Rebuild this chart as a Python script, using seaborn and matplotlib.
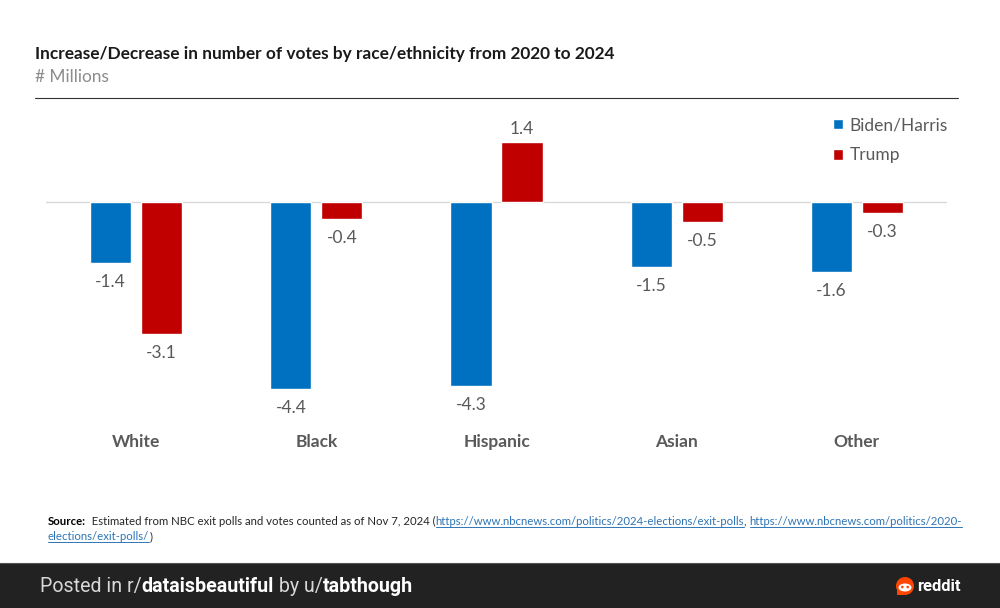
import pandas as pd
import matplotlib
matplotlib.use('Agg')
import matplotlib.pyplot as plt
from matplotlib.lines import Line2D
from matplotlib.patches import Circle, Ellipse, Polygon, Rectangle
import seaborn as sns

# Values (millions of votes)
groups = ['White', 'Black', 'Hispanic', 'Asian', 'Other']
biden_harris = [-1.449, -4.42, -4.349, -1.53, -1.649]
trump = [-3.12, -0.40, 1.39, -0.49, -0.27]
series_names = ['Biden/Harris', 'Trump']

W, H = 1000, 608

sns.set_theme(style='white')
plt.rcParams['font.family'] = ['Lato', 'DejaVu Sans']

df = pd.DataFrame({
    'group': groups * 2,
    'change': biden_harris + trump,
    'candidate': [series_names[0]] * 5 + [series_names[1]] * 5,
})

fig = plt.figure(figsize=(W / 100, H / 100), dpi=100, facecolor='white')

# Axes placed in pixels: x 46-947, y 112-429.5
ax = fig.add_axes([46 / W, 1 - 429.5 / H, 901 / W, 318 / H])

sns.barplot(data=df, x='group', y='change', hue='candidate',
            palette={'Biden/Harris': '#0070C0', 'Trump': '#C00000'},
            width=0.565, gap=0.19, saturation=1, errorbar=None, ax=ax)

ax.set_xlim(-0.5, 4.5)
ax.set_ylim(-228 / 42.5, 90 / 42.5)
ax.axhline(0, color='#d9d9d9', lw=1, zorder=0)

for container in ax.containers:
    labels = ax.bar_label(container, fmt='%.1f', padding=8, fontsize=12.5, color='#595959')
    # Labels above a bar sit closer to it than labels under a bar
    for label, bar in zip(labels, container):
        if bar.get_height() > 0:
            label.xyann = (0, 4)

sns.despine(ax=ax, left=True, bottom=True)
ax.set_xlabel('')
ax.set_ylabel('')
ax.set_yticks([])
ax.tick_params(axis='x', length=0, pad=3)
for label in ax.get_xticklabels():
    label.set_fontsize(12.5)
    label.set_fontweight('bold')
    label.set_color('#595959')

# Legend
leg = ax.legend(loc='upper right', bbox_to_anchor=(1.001, 0.982), frameon=False,
                fontsize=12.5, labelcolor='#595959', handlelength=0.58, handleheight=0.58,
                handletextpad=0.36, labelspacing=0.82, borderaxespad=0, borderpad=0)


def fy(y_px):
    return 1 - y_px / H


# Header
fig.text(35 / W, fy(54), 'Increase/Decrease in number of votes by race/ethnicity from 2020 to 2024',
         fontsize=12.38, fontweight='bold', color='#1a1a1a', va='center')
fig.text(35 / W, fy(77), '# Millions', fontsize=12.4, color='#8c8c8c', va='center')
fig.add_artist(Line2D([35 / W, 958 / W], [fy(97.5), fy(97.5)], color='#333333', lw=0.8))


def text_runs(x_px, y_px, runs):
    # Draw text pieces one after another, each with its own style
    renderer = fig.canvas.get_renderer()
    for content, style, underline in runs:
        t = fig.text(x_px / W, fy(y_px), content, va='baseline', **style)
        box = t.get_window_extent(renderer)
        if underline:
            fig.add_artist(Line2D([x_px / W, box.x1 / W], [fy(y_px + 1.6)] * 2,
                                  color='#2E75B6', lw=0.7))
        x_px = box.x1
    return x_px


plain = {'fontsize': 8.2, 'color': '#262626'}
bold = {'fontsize': 8.2, 'color': '#000000', 'fontweight': 'bold'}
link = {'fontsize': 8.2, 'color': '#2E75B6'}

# Source note
text_runs(48, 525, [
    ('Source:', bold, False),
    ('  Estimated from NBC exit polls and votes counted as of Nov 7, 2024 (', plain, False),
    ('https://www.nbcnews.com/politics/2024-elections/exit-polls', link, True),
    (', ', plain, False),
    ('https://www.nbcnews.com/politics/2020-', link, True),
])
text_runs(48, 540, [
    ('elections/exit-polls/', link, True),
    (')', plain, False),
])

# Footer band
fig.add_artist(Rectangle((0, 0), 1, 45 / H, transform=fig.transFigure, color='#222222', lw=0))
fig.add_artist(Line2D([0, 1], [fy(563)] * 2, color='#555555', lw=0.8))

light = {'fontsize': 14.1, 'color': '#d8d8d8', 'family': 'Roboto'}
strong = {'fontsize': 14.1, 'color': '#ffffff', 'family': 'Roboto', 'fontweight': 'bold'}
text_runs(40, 592, [
    ('Posted in r/', light, False),
    ('dataisbeautiful', strong, False),
    (' by u/', light, False),
    ('tabthough', strong, False),
])

# Reddit logo, drawn above the footer band
logo = fig.add_axes([0, 0, 1, 1], facecolor='none', zorder=5)
logo.set_xlim(0, W)
logo.set_ylim(H, 0)
logo.axis('off')
logo.add_patch(Circle((905, 586), 9, color='#FF4500', lw=0))
logo.add_patch(Polygon([(897, 588), (897, 595), (905, 595)], color='#FF4500', lw=0))
logo.add_patch(Ellipse((905, 587.5), 13, 8, color='white', lw=0))
logo.add_patch(Circle((902.3, 587), 1.3, color='#FF4500', lw=0))
logo.add_patch(Circle((907.7, 587), 1.3, color='#FF4500', lw=0))
fig.text(917 / W, fy(591), 'reddit', fontsize=12.0, fontweight='bold', color='white',
         family='Roboto', va='baseline')

plt.savefig('out.png', dpi=100)
print("Figure saved.")
